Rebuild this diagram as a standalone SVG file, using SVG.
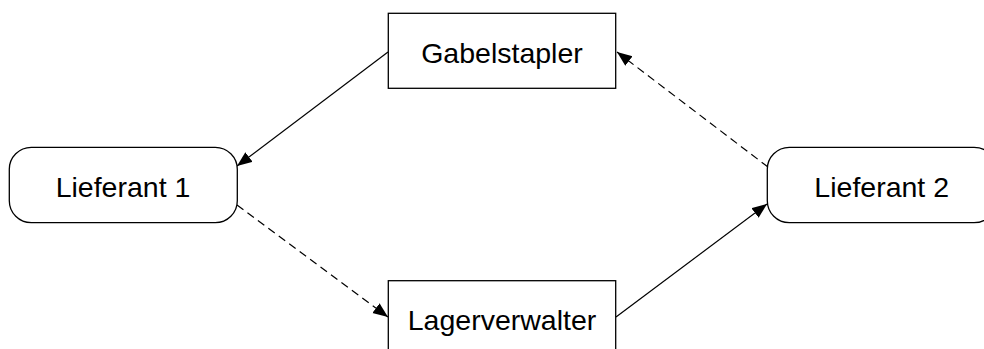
<svg xmlns="http://www.w3.org/2000/svg" width="984" height="349" viewBox="0 0 984 349">
  <style>
    .box { fill: #ffffff; stroke: #000000; stroke-width: 1.3; }
    .label { font-family: "Liberation Sans", Arial, sans-serif; font-size: 28.5px; fill: #000000; text-anchor: middle; }
    .edge { fill: none; stroke: #000000; stroke-width: 1.2; marker-end: url(#arrow); }
    .dashed { stroke-dasharray: 8 5; }
  </style>
  <defs>
    <marker id="arrow" markerUnits="userSpaceOnUse" markerWidth="16" markerHeight="13" refX="15" refY="6" orient="auto">
      <path d="M0,0 L15,6 L0,12 Z" fill="#000000"/>
    </marker>
  </defs>
  <rect width="984" height="349" fill="#ffffff"/>

  <g id="connectors">
    <line class="edge" x1="388" y1="52" x2="237" y2="166"/>
    <line class="edge dashed" x1="237" y1="205" x2="388" y2="317"/>
    <line class="edge" x1="616" y1="317" x2="767" y2="204"/>
    <line class="edge dashed" x1="768" y1="167" x2="617" y2="52"/>
  </g>

  <g id="gabelstapler">
    <rect class="box" x="388.3" y="13.3" width="227.4" height="75"/>
    <text class="label" x="502" y="62.7">Gabelstapler</text>
  </g>

  <g id="lieferant1">
    <rect class="box" x="9.3" y="147.3" width="228" height="75.4" rx="22" ry="22"/>
    <text class="label" x="123" y="196.7">Lieferant 1</text>
  </g>

  <g id="lieferant2">
    <rect class="box" x="767.3" y="147.3" width="228.8" height="75.4" rx="22" ry="22"/>
    <text class="label" x="881.7" y="196.7">Lieferant 2</text>
  </g>

  <g id="lagerverwalter">
    <rect class="box" x="388.3" y="280.7" width="227.4" height="75"/>
    <text class="label" x="502" y="330">Lagerverwalter</text>
  </g>
</svg>
